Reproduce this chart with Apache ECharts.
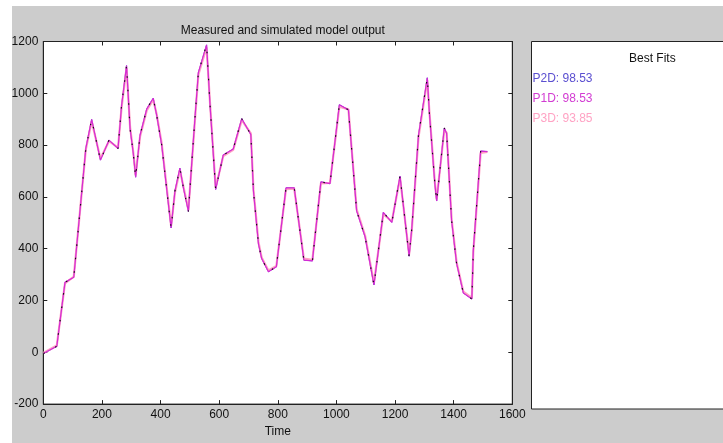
<!DOCTYPE html>
<html>
<head>
<meta charset="utf-8">
<script src="https://cdn.jsdelivr.net/npm/echarts@6/dist/echarts.min.js"></script>
<style>
  html, body { margin: 0; padding: 0; background: #ffffff; }
  #chart { width: 723px; height: 443px; }
</style>
</head>
<body>
<div id="chart"></div>
<script>
// Sample times shared by the measured record and the simulated outputs
const time = [0, 46, 74, 104, 145, 165, 195, 224, 255, 267, 284, 296, 307, 315, 330, 353, 375, 387, 404,
  436, 449, 466, 478, 495, 506, 518, 529, 557, 569, 588, 614, 648, 677, 708, 717, 734, 745, 768, 795,
  828, 856, 889, 918, 947, 978, 1010, 1041, 1069, 1098, 1128, 1160, 1189, 1217, 1248, 1257, 1280,
  1310, 1317, 1336, 1342, 1368, 1376, 1393, 1410, 1433, 1462, 1467, 1492, 1515];

// Measured output
const measured = [-5, 23, 270, 290, 787, 899, 742, 819, 787, 952, 1107, 864, 768, 676, 838, 940, 981, 914, 800,
  480, 622, 711, 635, 544, 724, 914, 1080, 1187, 952, 629, 762, 785, 902, 841, 622, 419, 362, 311, 330,
  635, 635, 356, 353, 658, 651, 956, 936, 546, 445, 260, 540, 502, 680, 371, 476, 838,
  1060, 927, 648, 584, 866, 845, 508, 343, 229, 206, 394, 777, 775];

// Simulated outputs of the three models
const p2d = [-5, 23, 270, 290, 787, 899, 742, 819, 787, 952, 1107, 864, 768, 676, 838, 940, 981, 914, 800,
  480, 622, 711, 635, 544, 724, 914, 1080, 1187, 952, 629, 762, 785, 902, 841, 622, 419, 362, 311, 330,
  635, 635, 356, 353, 658, 651, 956, 936, 546, 445, 260, 540, 502, 680, 371, 476, 838,
  1060, 927, 648, 584, 866, 845, 508, 343, 229, 206, 394, 777, 775];
const p1d = [-5, 23, 270, 290, 787, 899, 742, 819, 787, 952, 1107, 864, 768, 676, 838, 940, 981, 914, 800,
  480, 622, 711, 635, 544, 724, 914, 1080, 1187, 952, 629, 762, 785, 902, 841, 622, 419, 362, 311, 330,
  635, 635, 356, 353, 658, 651, 956, 936, 546, 445, 260, 540, 502, 680, 371, 476, 838,
  1060, 927, 648, 584, 866, 845, 508, 343, 229, 206, 394, 777, 775];
const p3d = [-3, 26, 266, 292, 782, 892, 748, 815, 790, 945, 1098, 870, 772, 684, 832, 934, 975, 918, 806,
  488, 616, 704, 640, 550, 718, 906, 1072, 1178, 958, 636, 758, 782, 896, 845, 628, 426, 366, 316, 333,
  630, 632, 362, 357, 652, 654, 948, 938, 552, 450, 268, 533, 505, 673, 378, 470, 830,
  1052, 932, 654, 590, 858, 848, 514, 348, 234, 210, 388, 770, 774];

const fitNames = ['P2D', 'P1D', 'P3D'];
const fitScores = ['98.53', '98.53', '93.85'];
const fitColors = ['#5b4fd0', '#d23cd2', '#ffa3c4'];

const xTicks = [0, 200, 400, 600, 800, 1000, 1200, 1400, 1600];
const yTicks = [-200, 0, 200, 400, 600, 800, 1000, 1200];

const pairs = (vals) => time.map((t, i) => [t, vals[i]]);

const chart = echarts.init(document.getElementById('chart'), null, { renderer: 'canvas' });

const FONT = 'Liberation Sans, Arial, sans-serif';
const plotLeft = 43.3, plotRight = 512.3, plotTop = 41.5, plotBottom = 409;

const axisCommon = {
  type: 'value', interval: 200,
  splitLine: { show: false },
  axisLine: { show: true, onZero: false, lineStyle: { color: '#222', width: 1 } },
  axisTick: { show: true, inside: true, length: 4, lineStyle: { color: '#222' } }
};
const sharedX = Object.assign({}, axisCommon, { min: xTicks[0], max: xTicks[xTicks.length - 1] });
const sharedY = Object.assign({}, axisCommon, { min: yTicks[0], max: yTicks[yTicks.length - 1] });

const plain = (v) => String(v);

const legendTexts = fitNames.map((n, i) => ({
  type: 'text', z: 2, left: 532.5, top: 73 + i * 20,
  style: { text: n + ': ' + fitScores[i], fill: fitColors[i], font: '12px ' + FONT }
}));

chart.setOption({
  animation: false,
  backgroundColor: '#ffffff',
  title: {
    text: 'Measured and simulated model output',
    left: (plotLeft + plotRight) / 2, top: 20, textAlign: 'center',
    textStyle: { fontFamily: FONT, fontSize: 12, fontWeight: 'normal', color: '#111' }
  },
  grid: {
    left: plotLeft, right: 723 - plotRight, top: plotTop, bottom: 443 - plotBottom,
    show: true, backgroundColor: '#ffffff', borderColor: '#222', borderWidth: 1
  },
  xAxis: [
    Object.assign({}, sharedX, {
      position: 'bottom',
      name: 'Time', nameLocation: 'middle', nameGap: 21,
      nameTextStyle: { fontFamily: FONT, fontSize: 12, color: '#111' },
      axisLabel: { fontFamily: FONT, fontSize: 12, color: '#111', margin: 5, formatter: plain }
    }),
    Object.assign({}, sharedX, { position: 'top', axisLabel: { show: false } })
  ],
  yAxis: [
    Object.assign({}, sharedY, {
      position: 'left',
      axisLabel: { fontFamily: FONT, fontSize: 12, color: '#111', margin: 5, formatter: plain }
    }),
    Object.assign({}, sharedY, { position: 'right', axisLabel: { show: false } })
  ],
  graphic: [
    // figure background
    { type: 'rect', z: -10, silent: true, shape: { x: 12, y: 6, width: 711, height: 437 },
      style: { fill: '#cccccc' } },
    // fit summary panel
    { type: 'rect', z: 1, shape: { x: 531.5, y: 41.5, width: 200, height: 367.5 },
      style: { fill: '#ffffff', stroke: '#222', lineWidth: 1 } },
    { type: 'text', z: 2, left: 629, top: 53,
      style: { text: 'Best Fits', fill: '#111', font: '12px ' + FONT, textAlign: 'center' } }
  ].concat(legendTexts),
  series: [
    { name: fitNames[0], type: 'line', data: pairs(p2d), showSymbol: false,
      lineStyle: { color: fitColors[0], width: 1 }, z: 2 },
    { name: fitNames[2], type: 'line', data: pairs(p3d), showSymbol: false,
      lineStyle: { color: fitColors[2], width: 2.2 }, z: 3 },
    { name: fitNames[1], type: 'line', data: pairs(p1d), showSymbol: false,
      lineStyle: { color: '#d42ad4', width: 1.2 }, z: 4 },
    { name: 'Measured', type: 'line', data: pairs(measured), showSymbol: false,
      lineStyle: { color: '#111111', width: 1.2, type: [1.5, 12] }, z: 5 }
  ]
});
</script>
</body>
</html>
